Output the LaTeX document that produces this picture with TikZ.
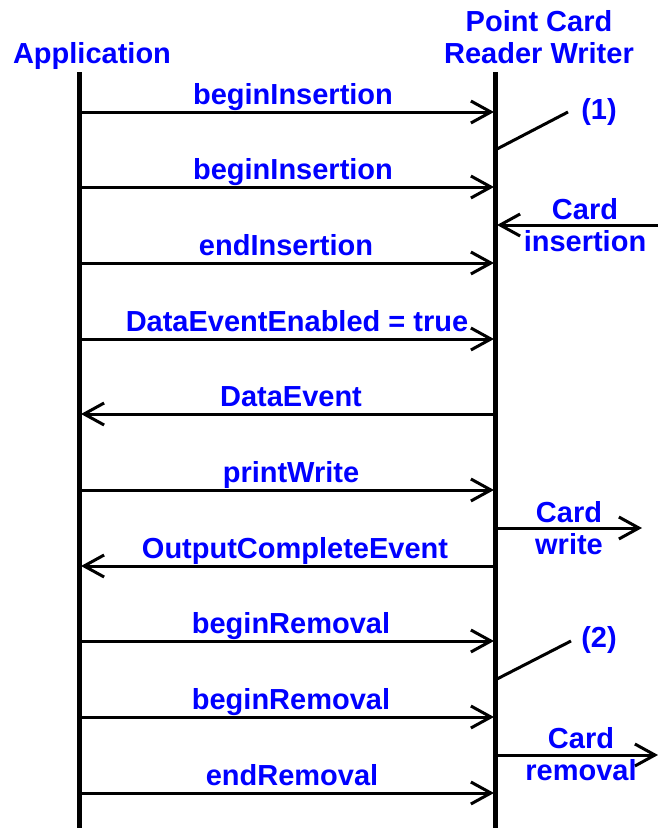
\documentclass[tikz,border=0pt]{standalone}
\usepackage{fontspec}
\setmainfont{Liberation Sans}
\usetikzlibrary{arrows.meta}
\definecolor{txtblue}{RGB}{0,0,255}
\tikzset{
  lifeline/.style={line width=5pt},
  msg/.style={line width=3pt,-{Straight Barb[length=20pt,width=22pt,line width=3pt]}},
  note/.style={line width=3pt},
  lbl/.style={text=txtblue,font=\bfseries\fontsize{29}{33}\selectfont,inner sep=0pt,anchor=base},
  ttl/.style={text=txtblue,font=\bfseries\fontsize{29}{33}\selectfont,inner sep=0pt,align=center},
}
\begin{document}
\begin{tikzpicture}[x=1pt,y=-1pt]
\useasboundingbox (0,0) rectangle (658,828);
% titles
\node[ttl] (app) at (92,56) {Application};
\node[ttl] (pcrw) at (539,37) {Point Card\\[-1pt]Reader Writer};
% lifelines
\coordinate (lt) at (79,72);
\coordinate (lb) at (79,828);
\coordinate (rt) at (495,72);
\coordinate (rb) at (495,828);
\draw[lifeline] (lt) -- (lb);
\draw[lifeline] (rt) -- (rb);
% message endpoints
\foreach \i/\y in {1/112,2/187,3/263,4/339,5/414,6/490,7/566,8/641,9/717,10/793}{
  \coordinate (a\i) at (79,\y);
  \coordinate (b\i) at (495,\y);
  \coordinate (ta\i) at (81,\y);
  \coordinate (tb\i) at (494,\y);
}
% messages
\draw[msg] (a1) -- (tb1);
\node[lbl] (m1) at (293,104) {beginInsertion};
\draw[msg] (a2) -- (tb2);
\node[lbl] (m2) at (293,179) {beginInsertion};
\draw[msg] (a3) -- (tb3);
\node[lbl] (m3) at (286,255) {endInsertion};
\draw[msg] (a4) -- (tb4);
\node[lbl] (m4) at (297,331) {DataEventEnabled = true};
\draw[msg] (b5) -- (ta5);
\node[lbl] (m5) at (291,406) {DataEvent};
\draw[msg] (a6) -- (tb6);
\node[lbl] (m6) at (291,482) {printWrite};
\draw[msg] (b7) -- (ta7);
\node[lbl] (m7) at (295,558) {OutputCompleteEvent};
\draw[msg] (a8) -- (tb8);
\node[lbl] (m8) at (291,633) {beginRemoval};
\draw[msg] (a9) -- (tb9);
\node[lbl] (m9) at (291,709) {beginRemoval};
\draw[msg] (a10) -- (tb10);
\node[lbl] (m10) at (292,785) {endRemoval};
% notes
\coordinate (n1s) at (497,149);
\coordinate (n1e) at (568,112);
\draw[note] (n1s) -- (n1e);
\node[ttl] (n1) at (599,112) {(1)};
\coordinate (n2s) at (497,679);
\coordinate (n2e) at (571,641);
\draw[note] (n2s) -- (n2e);
\node[ttl] (n2) at (599,640) {(2)};
% card insertion
\coordinate (ci) at (658,225);
\coordinate (cit) at (497,225);
\draw[msg] (ci) -- (cit);
\node[ttl] (cil) at (585,225) {Card\\[-1pt]insertion};
% card write
\coordinate (cws) at (497,528);
\coordinate (cwe) at (642,528);
\draw[msg] (cws) -- (cwe);
\node[ttl] (cwl) at (569,528) {Card\\[-1pt]write};
% card removal
\coordinate (crs) at (497,755);
\coordinate (cre) at (658,755);
\draw[msg] (crs) -- (cre);
\node[ttl] (crl) at (581,754) {Card\\[-1pt]removal};
\end{tikzpicture}
\end{document}
